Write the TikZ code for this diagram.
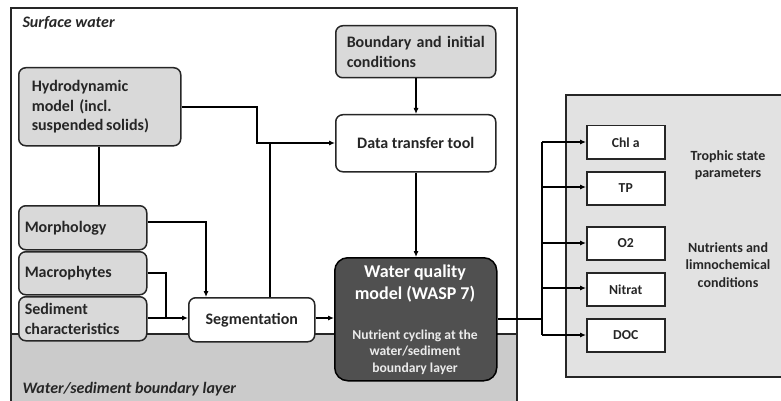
\documentclass[tikz,border=0pt]{standalone}
\usepackage{fontspec}
\setmainfont{Carlito}
\usetikzlibrary{arrows.meta}
\definecolor{boxgray}{HTML}{D9D9D9}
\definecolor{layergray}{HTML}{CBCBCB}
\definecolor{panelgray}{HTML}{E2E2E2}
\definecolor{wasp}{HTML}{505050}
\begin{document}
\begin{tikzpicture}[x=1pt,y=-1pt,
  every node/.style={font=\fontsize{16}{19.5}\selectfont\bfseries, text=black!85},
  grayrbox/.style={draw=black!85, line width=1.5pt, rounded corners=7pt, fill=boxgray, anchor=north west, inner sep=0pt, align=left},
  whiterbox/.style={draw=black!85, line width=1.5pt, rounded corners=7pt, fill=white, anchor=north west, inner sep=0pt, align=center},
  outbox/.style={draw=black!85, line width=1.5pt, fill=white, anchor=north west, inner sep=0pt, minimum width=78pt, minimum height=33pt, font=\fontsize{13.7}{16}\selectfont\bfseries},
  sidelabel/.style={align=center, font=\fontsize{14}{17.5}\selectfont\bfseries},
  cornerlabel/.style={font=\fontsize{16}{18}\selectfont\bfseries\itshape, anchor=west},
  conn/.style={draw=black, line width=1.1pt},
  arr/.style={conn, -{Latex[length=6pt,width=5pt]}}
]
\useasboundingbox (0,0) rectangle (781,401);
% outer panels
\fill[layergray] (11,334) rectangle (517,405);
\draw[line width=1.6pt, black!85] (11,405) -- (11,8) -- (517,8) -- (517,405);
\draw[line width=1.6pt, black!85] (11,334) -- (517,334);
\fill[panelgray] (566,95) rectangle (785,377);
\draw[line width=1.6pt, black!85] (785,95) -- (566,95) -- (566,377) -- (785,377);

\node[cornerlabel] (sw) at (19,23) {Surface water};
\node[cornerlabel] (wsl) at (19,389) {Water/sediment boundary layer};

% left boxes
\node[grayrbox, minimum width=162pt, minimum height=78pt, text width=136pt] (hydro) at (18,67) {Hydrodynamic\\model (incl.\\suspended\,solids)};
\node[grayrbox, minimum width=128pt, minimum height=44pt, text width=116pt] (morph) at (18,205) {Morphology};
\node[grayrbox, minimum width=128pt, minimum height=43pt, text width=116pt] (macro) at (18,251) {Macrophytes};
\node[grayrbox, minimum width=128pt, minimum height=44pt, text width=116pt] (sed) at (18,296) {Sediment\\characteristics};
\node[whiterbox, minimum width=126pt, minimum height=44pt] (seg) at (188,297) {Segmentation};

\node[grayrbox, minimum width=160pt, minimum height=52pt, text width=138pt] (bound) at (335,25) {Boundary and initial\\conditions};
\node[whiterbox, minimum width=160pt, minimum height=57pt] (dtt) at (335,114) {Data transfer tool};
\node[draw=black, line width=1.5pt, rounded corners=13pt, fill=wasp, anchor=north west, minimum width=162pt, minimum height=123pt, inner sep=0pt] (wq) at (334,257) {};
\node[text=white, align=center, font=\fontsize{18}{22}\selectfont\bfseries, anchor=north] (wqt) at (415,261) {Water quality\\model (WASP 7)};
\node[text=white!92!black, align=center, font=\fontsize{13.6}{16.5}\selectfont\bfseries, anchor=north] (wqs) at (415,326) {Nutrient cycling at the\\water/sediment\\boundary layer};

% output boxes
\node[outbox] (chl) at (586,125) {Chl a};
\node[outbox] (tp) at (586,171) {TP};
\node[outbox] (o2) at (586,226) {O2};
\node[outbox] (nit) at (586,272) {Nitrat};
\node[outbox] (doc) at (586,318) {DOC};
\node[sidelabel] (tsp) at (728,165) {Trophic state\\parameters};
\node[sidelabel] (nlc) at (728,265) {Nutrients and\\limnochemical\\conditions};

% connectors
\coordinate (j1) at (257,107);
\coordinate (j2) at (270,143);
\draw[arr] (hydro.east |- j1) -- (j1) |- (dtt.west |- j2);
\draw[conn] (seg.north -| j2) -- (j2);
\draw[conn] (hydro.south -| 99,0) -- (morph.north -| 99,0);
\draw[arr] (bound.south -| 416,0) -- (dtt.north -| 416,0);
\draw[arr] (dtt.south -| 416,0) -- (wq.north -| 416,0);
\draw[arr] (morph.east |- 0,222) -| (seg.north -| 206,0);
\draw[conn] (macro.east |- 0,273) -| (166,318);
\draw[arr] (sed.east |- 0,318) -- (seg.west |- 0,318);
\draw[arr] (seg.east |- 0,318) -- (wq.west |- 0,318);
\coordinate (dj) at (542,319);
\draw[conn] (wq.east |- dj) -- (dj);
\draw[conn] (542,142) -- (542,335);
\foreach \n/\yy in {chl/142, tp/187, o2/243, nit/288, doc/335}
  \draw[arr] (542,\yy) -- (\n.west |- 0,\yy);
\end{tikzpicture}
\end{document}
